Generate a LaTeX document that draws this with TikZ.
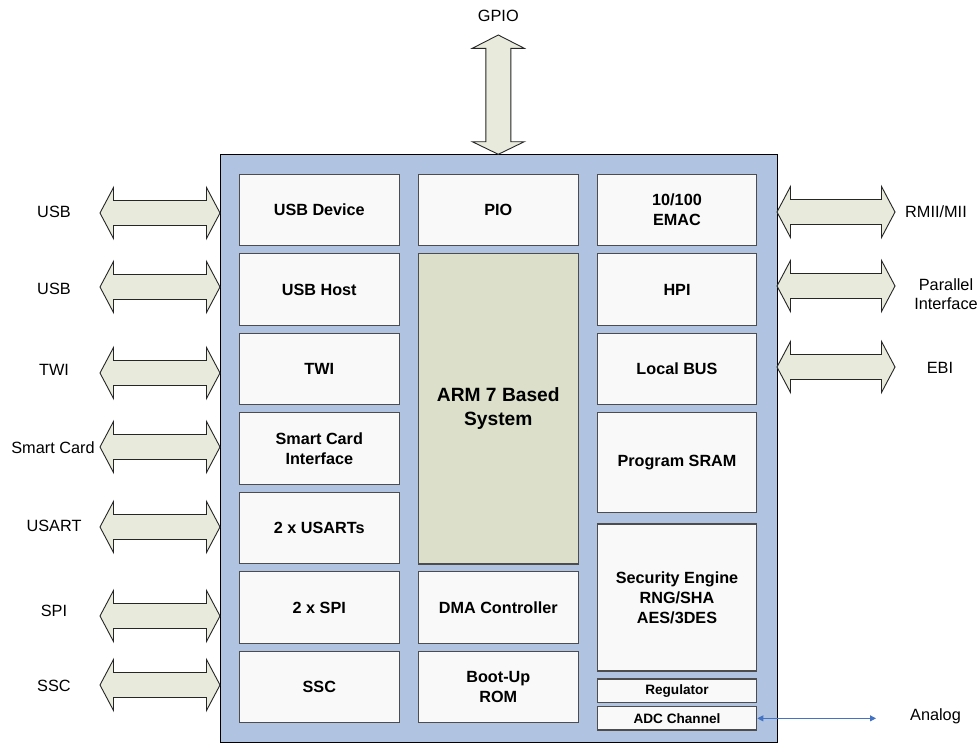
\documentclass[tikz,border=0pt]{standalone}
\usepackage{fontspec}
\setmainfont{Liberation Sans}
\usetikzlibrary{arrows.meta}
\definecolor{mainblue}{HTML}{B0C4E2}
\definecolor{armfill}{HTML}{DCE0CA}
\definecolor{boxfill}{HTML}{F9F9F9}
\definecolor{boxline}{HTML}{4D4D4D}
\definecolor{busfill}{HTML}{E8EADC}
\definecolor{analogblue}{HTML}{4472C4}
\tikzset{
  mainbox/.style={draw=black, line width=1pt, fill=mainblue, inner sep=0pt, minimum width=557pt, minimum height=588pt},
  blockbox/.style={draw=boxline, line width=1.2pt, fill=boxfill, inner sep=0pt, align=center,
    font=\fontsize{16.2}{20}\selectfont\bfseries},
  smallbox/.style={blockbox, font=\fontsize{13.6}{16}\selectfont\bfseries},
  armbox/.style={blockbox, fill=armfill, font=\fontsize{19.2}{24}\selectfont\bfseries},
  lbl/.style={inner sep=0pt, align=center, font=\fontsize{16.3}{19.5}\selectfont},
  bus/.style={draw=black!85, line width=0.9pt, fill=busfill, line join=miter},
  analog/.style={draw=analogblue, line width=1pt, {Triangle[length=6pt,width=6pt]}-{Triangle[length=6pt,width=6pt]}}
}
% horizontal double bus arrow: left tip x, right tip x, y
\newcommand\hbus[3]{%
  \draw[bus] (#1,#3) -- ++(13.5,-25.5) -- ++(0,13) -- (#2-13.5,#3-12.5) -- ++(0,-13) -- (#2,#3)
    -- (#2-13.5,#3+25.5) -- ++(0,-13) -- (#1+13.5,#3+12.5) -- ++(0,13) -- cycle;}
\begin{document}
\begin{tikzpicture}[x=1pt,y=-1pt]
\useasboundingbox (0,0) rectangle (978,744);
\fill[white] (0,0) rectangle (978,744);

% main chip
\node[mainbox] (main) at (498.5,448.3) {};

% vertical GPIO bus
\draw[bus] (498.3,35) -- (524.3,48.3) -- (510.8,48.3) -- (510.8,141.7) -- (524.3,141.7) -- (498.3,154.3)
  -- (472.3,141.7) -- (485.8,141.7) -- (485.8,48.3) -- (472.3,48.3) -- cycle;

% column 1
\node[blockbox, minimum width=160pt, minimum height=71.5pt] (usbdev) at (319.3,210.05) {USB Device};
\node[blockbox, minimum width=160pt, minimum height=71.5pt] (usbhost) at (319.3,289.55) {USB Host};
\node[blockbox, minimum width=160pt, minimum height=71.5pt] (twi) at (319.3,369.05) {TWI};
\node[blockbox, minimum width=160pt, minimum height=71.5pt] (smart) at (319.3,448.55) {Smart Card\\Interface};
\node[blockbox, minimum width=160pt, minimum height=71.5pt] (usart) at (319.3,528.05) {2 x USARTs};
\node[blockbox, minimum width=160pt, minimum height=71.5pt] (spi) at (319.3,607.55) {2 x SPI};
\node[blockbox, minimum width=160pt, minimum height=71.5pt] (ssc) at (319.3,687.05) {SSC};

% column 2
\node[blockbox, minimum width=160pt, minimum height=71.5pt] (pio) at (498.3,210.05) {PIO};
\node[armbox, minimum width=160pt, minimum height=310.2pt] (arm) at (498.3,408.9) {ARM 7 Based\\System};
\node[blockbox, minimum width=160pt, minimum height=71.5pt] (dma) at (498.3,607.55) {DMA Controller};
\node[blockbox, minimum width=160pt, minimum height=71.5pt] (boot) at (498.3,687.05) {Boot-Up\\ROM};

% column 3
\node[blockbox, minimum width=159.4pt, minimum height=71.5pt] (emac) at (677,210.05) {10/100\\EMAC};
\node[blockbox, minimum width=159.4pt, minimum height=71.5pt] (hpi) at (677,289.55) {HPI};
\node[blockbox, minimum width=159.4pt, minimum height=71.5pt] (lbus) at (677,369.05) {Local BUS};
\node[blockbox, minimum width=159.4pt, minimum height=99.5pt] (sram) at (677,462.55) {Program SRAM};
\node[blockbox, minimum width=159.4pt, minimum height=147pt] (sec) at (677,597.5) {Security Engine\\RNG/SHA\\AES/3DES};
\node[smallbox, minimum width=159.4pt, minimum height=23.3pt] (reg) at (677,690.65) {Regulator};
\node[smallbox, minimum width=159.4pt, minimum height=23.3pt] (adc) at (677,718.35) {ADC Channel};

% left buses
\hbus{100}{220}{213}
\hbus{100}{220}{287}
\hbus{100}{220}{373}
\hbus{100}{220}{447}
\hbus{100}{220}{527}
\hbus{100}{220}{616}
\hbus{100}{220}{685}

% right buses
\hbus{777}{895}{212}
\hbus{777}{895}{286}
\hbus{777}{895}{367}

% labels
\node[lbl] (gpio) at (498.3,16) {GPIO};
\node[lbl] (lusb1) at (54,212) {USB};
\node[lbl] (lusb2) at (54,289) {USB};
\node[lbl] (ltwi) at (54,370) {TWI};
\node[lbl] (lsmart) at (53,448) {Smart Card};
\node[lbl] (lusart) at (54,526) {USART};
\node[lbl] (lspi) at (54,611) {SPI};
\node[lbl] (lssc) at (54,686) {SSC};
\node[lbl] (rmii) at (936,212) {RMII/MII};
\node[lbl] (rpar) at (946,294) {Parallel\\Interface};
\node[lbl] (rebi) at (940,368) {EBI};
\node[lbl] (lanalog) at (935.5,716) {Analog};

% analog connector
\coordinate (anaend) at (876,718.35);
\draw[analog] (adc.east) -- (anaend);
\end{tikzpicture}
\end{document}
